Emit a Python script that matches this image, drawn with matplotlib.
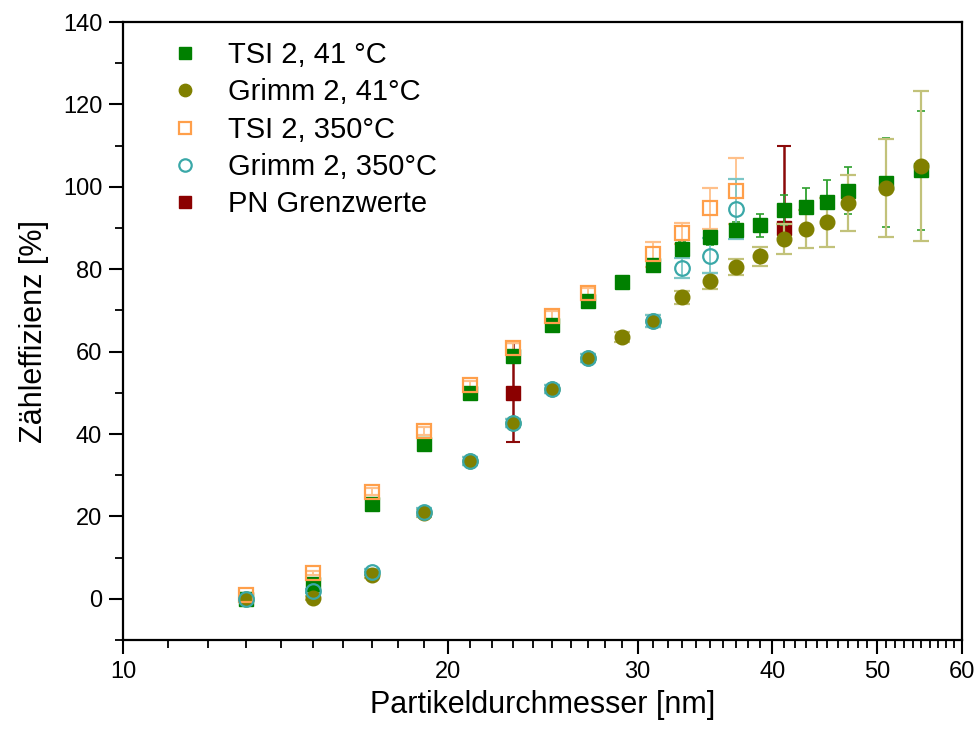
import numpy as np
import matplotlib.pyplot as plt
from matplotlib.ticker import FixedLocator, NullFormatter

plt.rcParams['font.family'] = ['Liberation Sans', 'DejaVu Sans']

# Partikeldurchmesser [nm]
d_41 = [13, 15, 17, 19, 21, 23, 25, 27, 29, 31, 33, 35, 37, 39, 41, 43, 45, 47, 51, 55]
d_350 = [13, 15, 17, 19, 21, 23, 25, 27, 31, 33, 35, 37]
d_pn = [23, 41]

# Zähleffizienz [%]
tsi_41 = [0, 3.5, 23, 37.5, 50, 59, 66.5, 72.3, 77, 81, 84.8, 87.8, 89.4, 90.7,
          94.4, 95.2, 96.2, 99.1, 101, 104]
tsi_41_err = [0.5, 0.5, 0.8, 0.8, 0.8, 1, 1, 1, 1, 1.5, 1.8, 2, 2, 2.8,
              3.6, 4.5, 5.4, 5.8, 10.8, 14.4]
grimm_41 = [0, 0.3, 5.8, 20.8, 33.5, 42.6, 51, 58.5, 63.5, 67.5, 73.2, 77.2,
            80.5, 83.1, 87.3, 89.7, 91.4, 96, 99.7, 105]
grimm_41_err = [0.5, 0.5, 0.8, 1, 1, 1, 1, 1, 1.2, 1.5, 1.6, 2, 2, 2.4,
                3.6, 4.6, 6, 6.8, 11.8, 18.2]
tsi_350 = [1, 6.3, 26, 40.8, 51.8, 60.8, 68.7, 74.3, 83.6, 88.7, 94.8, 99.0]
tsi_350_err = [0.5, 0.5, 0.8, 1, 1, 1.2, 1.2, 1.2, 3, 2.5, 5, 8]
grimm_350 = [0, 2, 6.5, 21, 33.5, 42.6, 51, 58.5, 67.5, 80.3, 83.3, 94.6]
grimm_350_err = [0.5, 0.5, 0.8, 1, 1, 1, 1, 1, 1.5, 2.4, 4.2, 7.3]
pn = [50, 90]
pn_err_low = [12, 0]
pn_err_high = [12, 20]

fig = plt.figure(figsize=(9.78, 7.41), dpi=100)
ax = fig.add_axes([0.1258, 0.1363, 0.858, 0.834])

ms = 9.5
ax.errorbar(d_pn, pn, yerr=[pn_err_low, pn_err_high], fmt='s', color='#8b0000',
            ms=ms, ecolor='#8b0a0a', elinewidth=1.8, capsize=5, capthick=1.5,
            zorder=1.5, label='PN Grenzwerte')
ax.errorbar(d_41, tsi_41, yerr=tsi_41_err, fmt='s', color='#008000', ms=ms,
            ecolor='#2ea02e', elinewidth=1.3, capsize=3, capthick=1.2,
            label='TSI 2, 41 °C')
ax.errorbar(d_41, grimm_41, yerr=grimm_41_err, fmt='o', color='#808000', ms=ms + 1,
            ecolor='#c2c27a', elinewidth=1.6, capsize=6, capthick=1.6,
            label='Grimm 2, 41°C')
ax.errorbar(d_350, tsi_350, yerr=tsi_350_err, fmt='s', mfc='none', mec='#ff9f4a',
            mew=1.6, ms=ms, ecolor='#ffc08a', elinewidth=1.3, capsize=6,
            capthick=1.3, label='TSI 2, 350°C')
ax.errorbar(d_350, grimm_350, yerr=grimm_350_err, fmt='o', mfc='none', mec='#3aa8a8',
            mew=1.6, ms=ms + 1, ecolor='#7cc6c6', elinewidth=1.3, capsize=6,
            capthick=1.3, label='Grimm 2, 350°C')

ax.set_xscale('log')
ax.set_xlim(10, 60)
ax.set_ylim(-10, 140)
ax.xaxis.set_major_locator(FixedLocator([10, 20, 30, 40, 50, 60]))
ax.set_xticklabels(['10', '20', '30', '40', '50', '60'])
ax.xaxis.set_minor_locator(FixedLocator([v for v in range(11, 60) if v % 10 != 0]))
ax.xaxis.set_minor_formatter(NullFormatter())
ax.set_yticks(np.arange(0, 141, 20))
ax.yaxis.set_minor_locator(FixedLocator(np.arange(-10, 140, 20)))

for s in ax.spines.values():
    s.set_linewidth(1.6)
ax.tick_params(which='major', direction='out', length=10, width=1.5,
               labelsize=17, pad=5)
ax.tick_params(which='minor', direction='out', length=5.5, width=1.3)

ax.set_xlabel('Partikeldurchmesser [nm]', fontsize=22, labelpad=5)
ax.set_ylabel('Zähleffizienz [%]', fontsize=22, labelpad=10)

h, l = ax.get_legend_handles_labels()
order = [1, 2, 3, 4, 0]
leg = ax.legend([h[i][0] for i in order], [l[i] for i in order], loc='upper left',
                frameon=False, fontsize=21, handlelength=1.0, handletextpad=1.0,
                labelspacing=0.32, borderpad=0, borderaxespad=0, markerscale=0.85,
                bbox_to_anchor=(0.056, 0.969))

fig.savefig('out.png', dpi=100)
